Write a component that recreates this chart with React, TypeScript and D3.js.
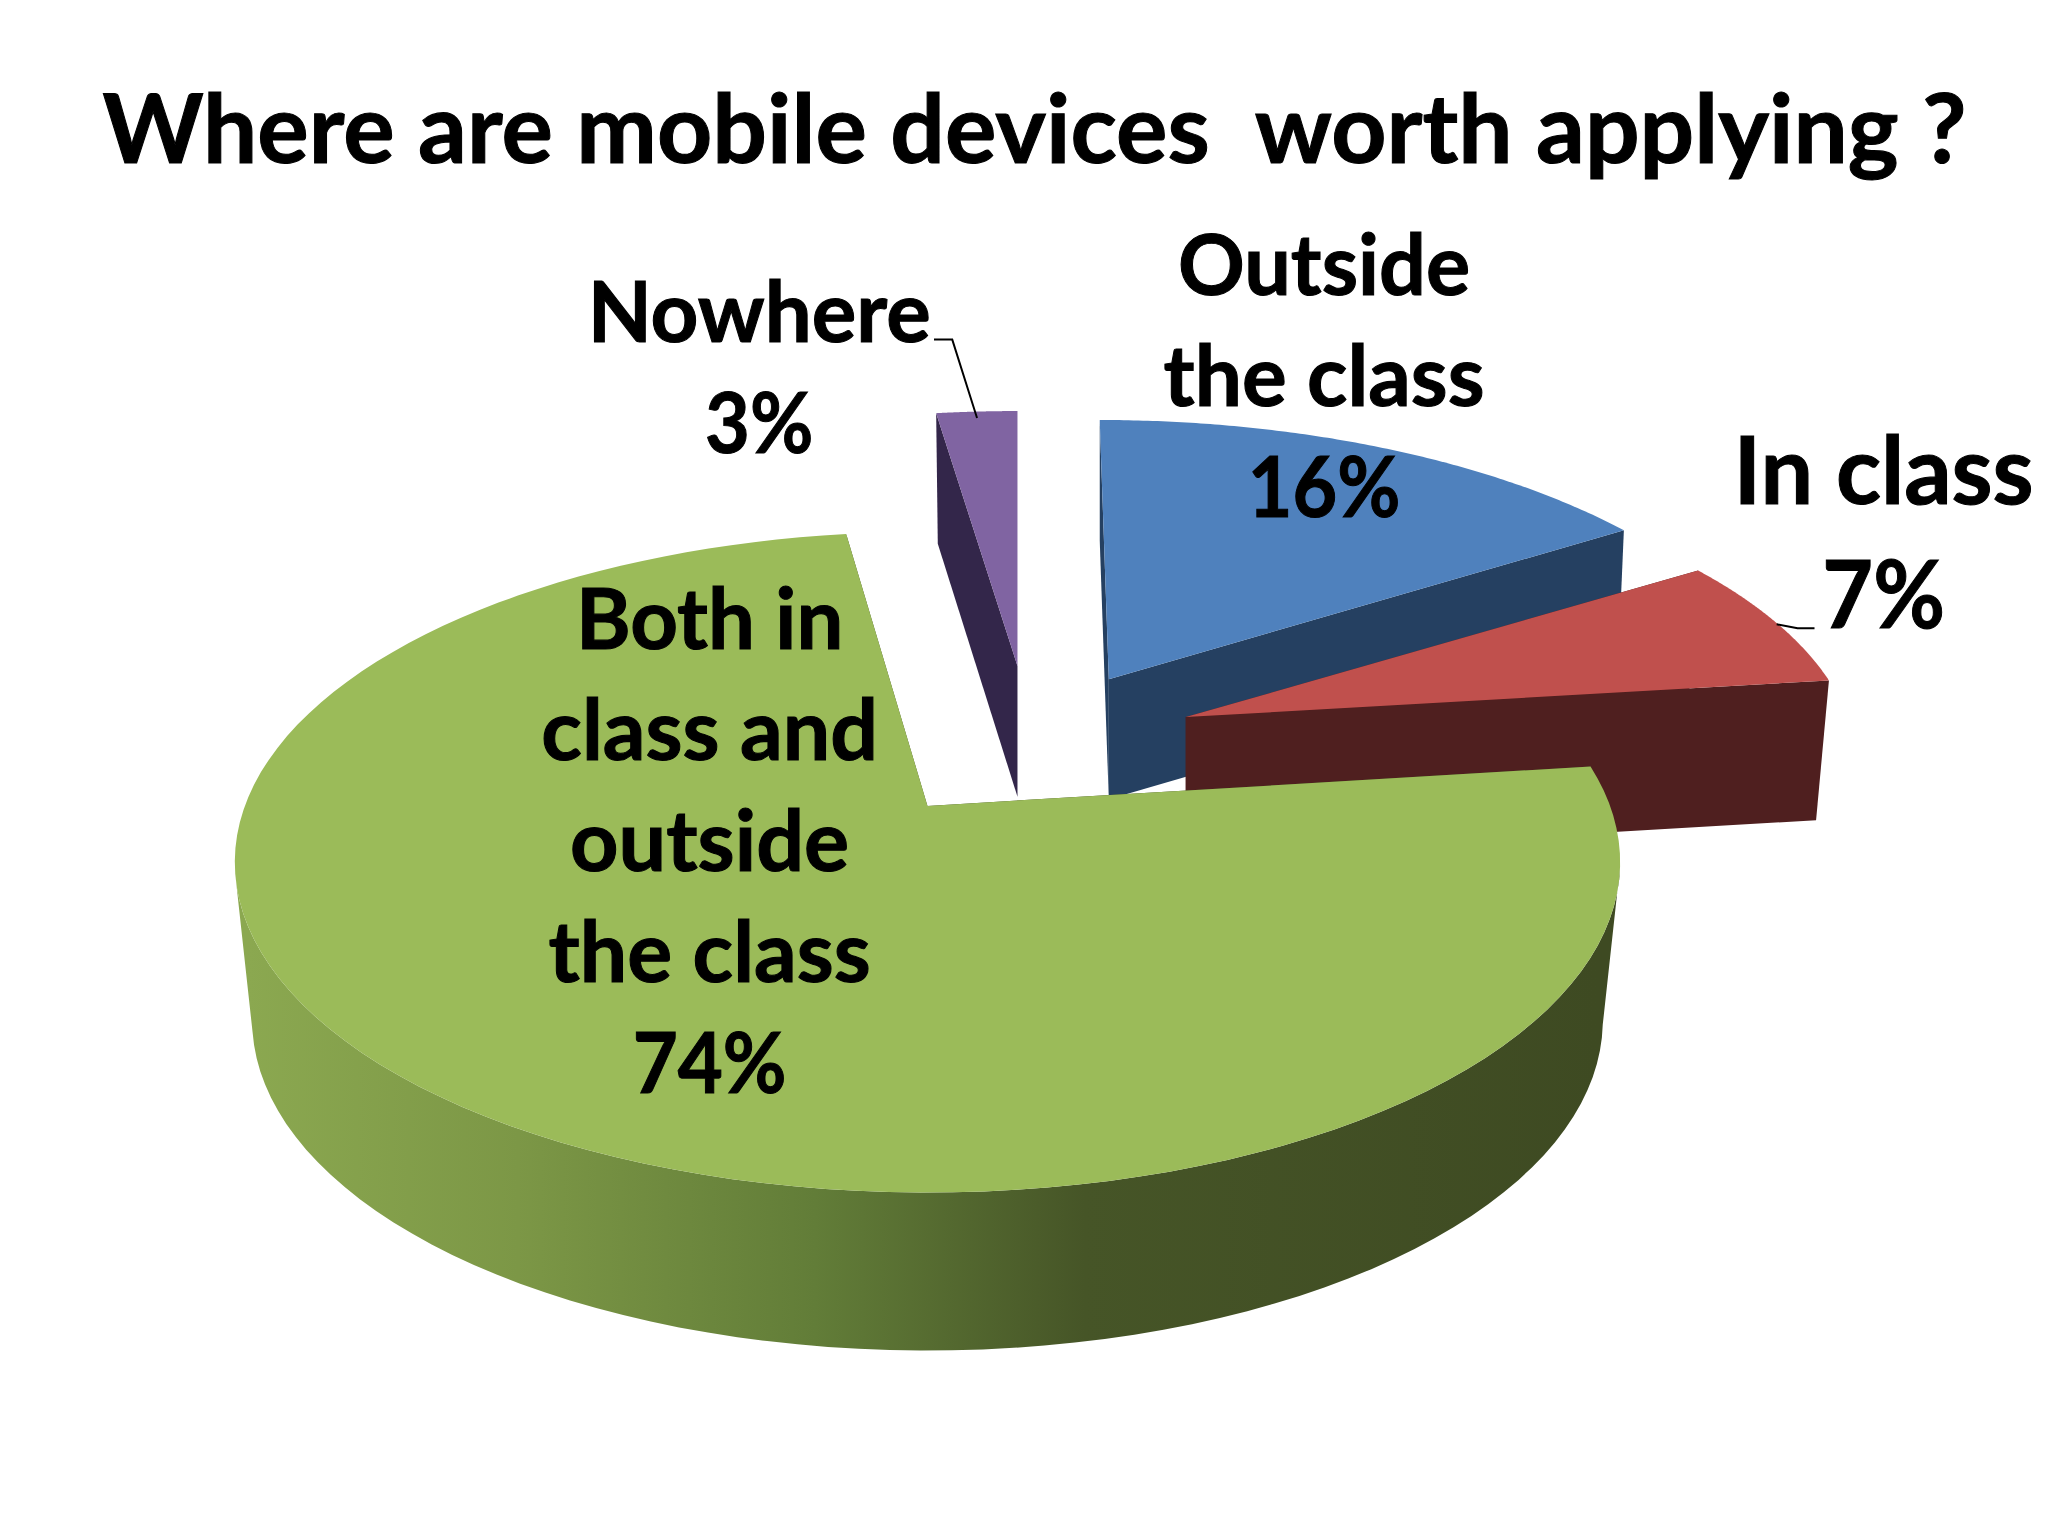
import * as d3 from "d3";

const categories = ["Outside the class", "In class", "Both in class and outside the class", "Nowhere"];
const shares = [16, 7, 74, 3];
const topColors = ["#4f81bd", "#c0504d", "#9bbb59", "#8064a2"];
const wallColors = ["#254061", "#4f1f1f", "url(#greenWall)", "#33264a"];
const title = "Where are mobile devices  worth applying ?";

// the picture was measured at this size, the svg scales it up to 2048
const W = 1570;
const H = 1176;
const rx = 531;
const ry = 253;
const persp = 0.17;

// exploded position of each slice tip, scale of its disc, depth of its wall
const tips = [
  { x: 850, y: 520, sx: 0.985, sy: 0.945, depth: 92, fx: 0.99, skew: 0.035 },
  { x: 909, y: 549, sx: 0.97, sy: 0.93, depth: 107, fx: 0.98, skew: 0 },
  { x: 711, y: 617, sx: 1, sy: 1, depth: 121, fx: 0.975, skew: 0 },
  { x: 780, y: 510, sx: 1.0, sy: 0.93, depth: 100, fx: 0.98, skew: 0 },
];
const drawOrder = [3, 0, 1, 2];

const labels = [
  { lines: ["Outside", "the class", "16%"], x: 1015, y: 226, dy: 85, size: 64, widths: [224, 246, 117] },
  { lines: ["In class", "7%"], x: 1444, y: 386, dy: 95, size: 72, widths: [230, 94] },
  {
    lines: ["Both in", "class and", "outside", "the class", "74%"],
    x: 544,
    y: 497,
    dy: 85,
    size: 64,
    widths: [205, 258, 214, 247, 118],
  },
  { lines: ["Nowhere", "3%"], x: 582, y: 262, dy: 85, size: 64, widths: [263, 83] },
];
const leaders = [
  [[716, 260], [730, 260], [749, 320]],
  [[1362, 478], [1378, 481], [1391, 481]],
];

const slices = d3
  .pie<number>()
  .sort(null)
  .value((d) => d)(shares);

// the far side of the pie looks squeezed in the photo, angles near the back close up
const backWarp = d3
  .scaleLinear()
  .domain([270, 349.2, 360].map((d) => (d * Math.PI) / 180))
  .range([270, 352, 360].map((d) => (d * Math.PI) / 180));

// circle angle -> point on the perspective ellipse, relative to the tip
function project(raw: number, sx: number, sy: number): [number, number] {
  const angle = raw > Math.PI * 1.5 ? backWarp(raw) : raw;
  const X = Math.sin(angle);
  const Y = Math.cos(angle);
  const den = 1 + persp * Y;
  return [
    (sx * rx * X * Math.sqrt(1 - persp * persp)) / den,
    -sy * ry * ((Y + persp) / den - persp),
  ];
}

const line = d3.line();

function sliceParts(i: number) {
  const t = tips[i];
  const { startAngle, endAngle } = slices[i];
  const steps = d3.range(0, 121).map((n) => startAngle + ((endAngle - startAngle) * n) / 120);
  const top = (a: number): [number, number] => {
    const [dx, dy] = project(a, t.sx, t.sy);
    return [t.x + dx + dy * t.skew, t.y + dy];
  };
  const bottom = (a: number): [number, number] => {
    const [dx, dy] = project(a, t.sx, t.sy);
    return [t.x + dx * t.fx + dy * t.skew, t.y + t.depth + dy];
  };
  const tipTop: [number, number] = [t.x, t.y];
  const tipBottom: [number, number] = [t.x, t.y + t.depth];
  const topPath = line([tipTop, ...steps.map(top)]) + "Z";
  const face = (a: number) => line([tipTop, top(a), bottom(a), tipBottom]) + "Z";
  // only the part of the rim that faces the viewer gets a wall
  const limit = Math.acos(-persp);
  const front = steps.filter((a) => a > limit && a < 2 * Math.PI - limit);
  const rim = front.length
    ? line([...front.map(top), ...front.slice().reverse().map(bottom)]) + "Z"
    : null;
  return { topPath, startFace: face(startAngle), endFace: face(endAngle), rim };
}

export default function App() {
  return (
    <svg
      width={2048}
      height={1536}
      viewBox={`0 0 ${W} ${H}`}
      preserveAspectRatio="none"
      style={{ position: "absolute", left: 0, top: 0, background: "#fff" }}
      fontFamily="Lato, sans-serif"
      fontWeight={700}
      stroke="none"
    >
      <defs>
        <linearGradient id="greenWall" gradientUnits="userSpaceOnUse" x1={190} x2={1225} y1={0} y2={0}>
          <stop offset="0" stopColor="#8ba850" />
          <stop offset="0.2" stopColor="#7c9746" />
          <stop offset="0.42" stopColor="#627d38" />
          <stop offset="0.62" stopColor="#465527" />
          <stop offset="1" stopColor="#3e4a22" />
        </linearGradient>
      </defs>
      <text
        x={793}
        y={125}
        fontSize={74}
        textAnchor="middle"
        textLength={1429}
        lengthAdjust="spacingAndGlyphs"
        stroke="#000"
        strokeWidth={0.8}
        style={{ whiteSpace: "pre" }}
      >
        {title}
      </text>
      {drawOrder.map((i) => {
        const p = sliceParts(i);
        const faceFill = i === 2 ? "#3e4a22" : wallColors[i];
        return (
          <g key={categories[i]}>
            <path d={p.startFace} fill={faceFill} />
            <path d={p.endFace} fill={faceFill} />
            {p.rim && <path d={p.rim} fill={wallColors[i]} />}
            <path d={p.topPath} fill={topColors[i]} />
          </g>
        );
      })}
      {leaders.map((l, i) => (
        <path key={i} d={line(l as [number, number][]) ?? ""} fill="none" stroke="#000" strokeWidth={1.5} />
      ))}
      {labels.map((l) =>
        l.lines.map((txt, j) => (
          <text
            key={l.x + txt}
            x={l.x}
            y={l.y + j * l.dy}
            fontSize={l.size}
            textAnchor="middle"
            textLength={l.widths[j]}
            lengthAdjust="spacingAndGlyphs"
            fill="#000"
            stroke="#000"
            strokeWidth={0.8}
          >
            {txt}
          </text>
        ))
      )}
    </svg>
  );
}
